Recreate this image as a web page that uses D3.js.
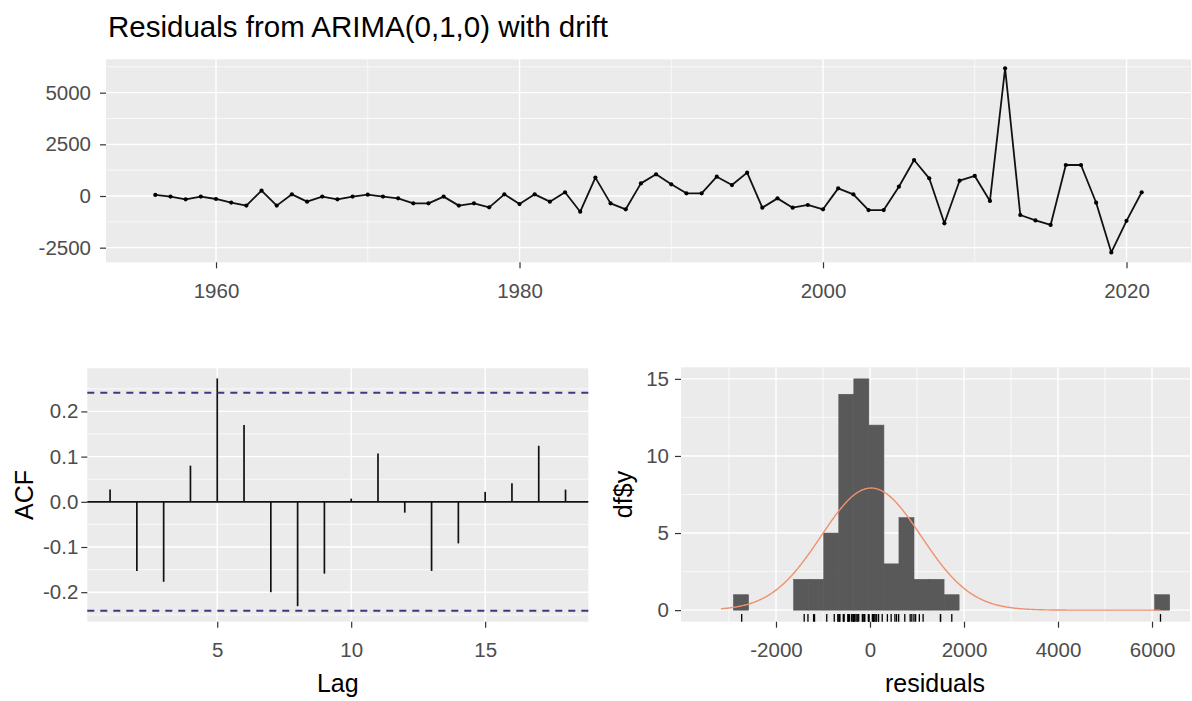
<!DOCTYPE html>
<html><head><meta charset="utf-8">
<script src="https://cdn.jsdelivr.net/npm/d3@7"></script>
<style>
body{margin:0;background:#fff}
svg text{font-family:"Liberation Sans",Arial,sans-serif}
</style>
</head><body>
<svg id="chart" width="1192" height="701"></svg>
<script>
// ---------- DATA ----------
const years = [1956,1957,1958,1959,1960,1961,1962,1963,1964,1965,1966,1967,1968,1969,1970,
  1971,1972,1973,1974,1975,1976,1977,1978,1979,1980,1981,1982,1983,1984,1985,1986,1987,1988,
  1989,1990,1991,1992,1993,1994,1995,1996,1997,1998,1999,2000,2001,2002,2003,2004,2005,2006,
  2007,2008,2009,2010,2011,2012,2013,2014,2015,2016,2017,2018,2019,2020,2021];
const residuals = [50,-30,-160,-30,-145,-320,-465,260,-465,80,-275,-30,-160,-30,65,
  -30,-115,-355,-355,-30,-465,-355,-550,80,-390,80,-275,180,-760,890,-355,-645,610,
  1050,565,130,130,935,530,1130,-565,-115,-565,-435,-645,370,80,-680,-680,450,1740,
  855,-1320,740,970,-240,6180,-920,-1180,-1400,1500,1500,-325,-2730,-1200,180];

const acfLags   = [1,2,3,4,5,6,7,8,9,10,11,12,13,14,15,16,17,18];
const acfValues = [0.027,-0.153,-0.177,0.080,0.273,0.170,-0.200,-0.231,-0.159,0.007,
  0.107,-0.024,-0.153,-0.092,0.022,0.041,0.124,0.027];
const acfCI = 0.2413;

const histStart = -2904;
const histBinWidth = 320;
const histCounts = [1,0,0,0,2,2,5,14,15,12,3,6,2,2,1,0,0,0,0,0,0,0,0,0,0,0,0,0,1];

const topXTicks = [1960,1980,2000,2020];
const topXMinor = [1970,1990,2010];
const topYTicks = [-2500,0,2500,5000];
const topYMinor = [-1250,1250,3750,6250];
const acfXTicks = [5,10,15];
const acfYTicks = [-0.2,-0.1,0.0,0.1,0.2];
const acfYMinor = [-0.25,-0.15,-0.05,0.05,0.15,0.25];
const histXTicks = [-2000,0,2000,4000,6000];
const histXMinor = [-3000,-1000,1000,3000,5000];
const histYTicks = [0,5,10,15];
const histYMinor = [2.5,7.5,12.5];

const titleText = "Residuals from ARIMA(0,1,0) with drift";

// ---------- DRAW ----------
const svg = d3.select("#chart");
const FONT = '"Liberation Sans",Arial,sans-serif';

function panel(x, y, xMajor, xMinor, yMajor, yMinor){
  const [x0,x1] = x.range(), [y0,y1] = y.range();
  const g = svg.append("g");
  g.append("rect").attr("x",x0).attr("y",y1).attr("width",x1-x0).attr("height",y0-y1).attr("fill","#EBEBEB");
  g.selectAll(null).data(yMinor).join("line").attr("x1",x0).attr("x2",x1)
    .attr("y1",d=>y(d)).attr("y2",d=>y(d)).attr("stroke","#fff").attr("stroke-width",0.7);
  g.selectAll(null).data(xMinor).join("line").attr("y1",y0).attr("y2",y1)
    .attr("x1",d=>x(d)).attr("x2",d=>x(d)).attr("stroke","#fff").attr("stroke-width",0.7);
  g.selectAll(null).data(yMajor).join("line").attr("x1",x0).attr("x2",x1)
    .attr("y1",d=>y(d)).attr("y2",d=>y(d)).attr("stroke","#fff").attr("stroke-width",1.4);
  g.selectAll(null).data(xMajor).join("line").attr("y1",y0).attr("y2",y1)
    .attr("x1",d=>x(d)).attr("x2",d=>x(d)).attr("stroke","#fff").attr("stroke-width",1.4);
  return g;
}
function styleAxis(g){
  g.attr("font-family",FONT).attr("font-size",20.5);
  g.select(".domain").remove();
  g.selectAll(".tick line").attr("stroke","#333").attr("stroke-width",1.2);
  g.selectAll(".tick text").attr("fill","#4D4D4D");
}
const fmtPlain = d => String(d);

// Title
svg.append("text").attr("x",108).attr("y",37).attr("font-size",29.5).attr("fill","#000")
  .attr("font-family",FONT).text(titleText);

// ---- Top: residual time series ----
const xTop = d3.scaleLinear().domain([1952.75, 2024.25]).range([106, 1191]);
const yTop = d3.scaleLinear().domain([-3208, 6614]).range([262.3, 59.3]);
panel(xTop, yTop, topXTicks, topXMinor, topYTicks, topYMinor);
svg.append("g").attr("transform","translate(0,262.3)")
  .call(d3.axisBottom(xTop).tickValues(topXTicks).tickFormat(fmtPlain).tickSize(6).tickPadding(15))
  .call(styleAxis);
svg.append("g").attr("transform","translate(106,0)")
  .call(d3.axisLeft(yTop).tickValues(topYTicks).tickFormat(fmtPlain).tickSize(6).tickPadding(9))
  .call(styleAxis);
const series = years.map((yr,i)=>({yr, v:residuals[i]}));
svg.append("path").datum(series)
  .attr("d", d3.line().x(d=>xTop(d.yr)).y(d=>yTop(d.v)))
  .attr("fill","none").attr("stroke","#111").attr("stroke-width",1.8).attr("stroke-linejoin","round");
svg.append("g").selectAll("circle").data(series).join("circle")
  .attr("cx",d=>xTop(d.yr)).attr("cy",d=>yTop(d.v)).attr("r",2.1).attr("fill","#000");

// ---- ACF ----
const xAcf = d3.scaleLinear().domain([0.15, 18.85]).range([87.3, 588.3]);
const yAcf = d3.scaleLinear().domain([-0.2653, 0.2954]).range([621.7, 368.3]);
panel(xAcf, yAcf, acfXTicks, [], acfYTicks, acfYMinor);
svg.append("g").attr("transform","translate(0,621.7)")
  .call(d3.axisBottom(xAcf).tickValues(acfXTicks).tickFormat(fmtPlain).tickSize(6).tickPadding(15))
  .call(styleAxis);
svg.append("g").attr("transform","translate(87.3,0)")
  .call(d3.axisLeft(yAcf).tickValues(acfYTicks).tickFormat(d=>d.toFixed(1)).tickSize(6).tickPadding(3))
  .call(styleAxis);
svg.append("line").attr("x1",xAcf.range()[0]).attr("x2",xAcf.range()[1])
  .attr("y1",yAcf(0)).attr("y2",yAcf(0)).attr("stroke","#111").attr("stroke-width",1.7);
svg.append("g").selectAll("line").data(acfLags).join("line")
  .attr("x1",d=>xAcf(d)).attr("x2",d=>xAcf(d))
  .attr("y1",yAcf(0)).attr("y2",(d,i)=>yAcf(acfValues[i]))
  .attr("stroke","#111").attr("stroke-width",1.7);
svg.append("g").selectAll("line").data([acfCI,-acfCI]).join("line")
  .attr("x1",xAcf.range()[0]).attr("x2",xAcf.range()[1])
  .attr("y1",d=>yAcf(d)).attr("y2",d=>yAcf(d))
  .attr("stroke","#3a3a7e").attr("stroke-width",2).attr("stroke-dasharray","7,6");
svg.append("text").attr("transform",`translate(33,${(368.3+621.7)/2}) rotate(-90)`)
  .attr("text-anchor","middle").attr("font-family",FONT).attr("font-size",25).text("ACF");
svg.append("text").attr("x",(87.3+588.3)/2).attr("y",691.5).attr("text-anchor","middle")
  .attr("font-family",FONT).attr("font-size",25).text("Lag");

// ---- Histogram ----
const xHist = d3.scaleLinear().domain([-4021, 6808]).range([681, 1190]);
const yHist = d3.scaleLinear().domain([-0.75, 15.75]).range([621.7, 367.3]);
panel(xHist, yHist, histXTicks, histXMinor, histYTicks, histYMinor);
svg.append("g").attr("transform","translate(0,621.7)")
  .call(d3.axisBottom(xHist).tickValues(histXTicks).tickFormat(fmtPlain).tickSize(6).tickPadding(15))
  .call(styleAxis);
svg.append("g").attr("transform","translate(681,0)")
  .call(d3.axisLeft(yHist).tickValues(histYTicks).tickFormat(fmtPlain).tickSize(6).tickPadding(6))
  .call(styleAxis);
const bins = histCounts.map((c,i)=>({lo:histStart+i*histBinWidth, hi:histStart+(i+1)*histBinWidth, c}))
  .filter(b=>b.c>0);
svg.append("g").selectAll("rect").data(bins).join("rect")
  .attr("x",d=>xHist(d.lo)).attr("width",d=>xHist(d.hi)-xHist(d.lo))
  .attr("y",d=>yHist(d.c)).attr("height",d=>yHist(0)-yHist(d.c))
  .attr("fill","#595959").attr("stroke","#595959").attr("stroke-width",0.6);
// fitted normal curve from the residuals
const n = residuals.length;
const mu = d3.mean(residuals), sd = d3.deviation(residuals);
const gx0 = mu - 3*sd, gx1 = d3.max(residuals);
const grid = d3.range(512).map(i => gx0 + (gx1-gx0)*i/511);
const dens = grid.map(xv => ({x:xv, y: n*histBinWidth*Math.exp(-0.5*((xv-mu)/sd)**2)/(sd*Math.sqrt(2*Math.PI))}));
svg.append("path").datum(dens)
  .attr("d", d3.line().x(d=>xHist(d.x)).y(d=>yHist(d.y)))
  .attr("fill","none").attr("stroke","#f0906e").attr("stroke-width",1.4);
// rug
svg.append("g").selectAll("line").data(residuals).join("line")
  .attr("x1",d=>xHist(d)).attr("x2",d=>xHist(d))
  .attr("y1",621.7).attr("y2",621.7-7.6).attr("stroke","#000").attr("stroke-width",1.3);
svg.append("text").attr("transform",`translate(632,${(367.3+621.7)/2}) rotate(-90)`)
  .attr("text-anchor","middle").attr("font-family",FONT).attr("font-size",25).text("df$y");
svg.append("text").attr("x",935).attr("y",692).attr("text-anchor","middle")
  .attr("font-family",FONT).attr("font-size",25).text("residuals");
</script>
</body></html>
